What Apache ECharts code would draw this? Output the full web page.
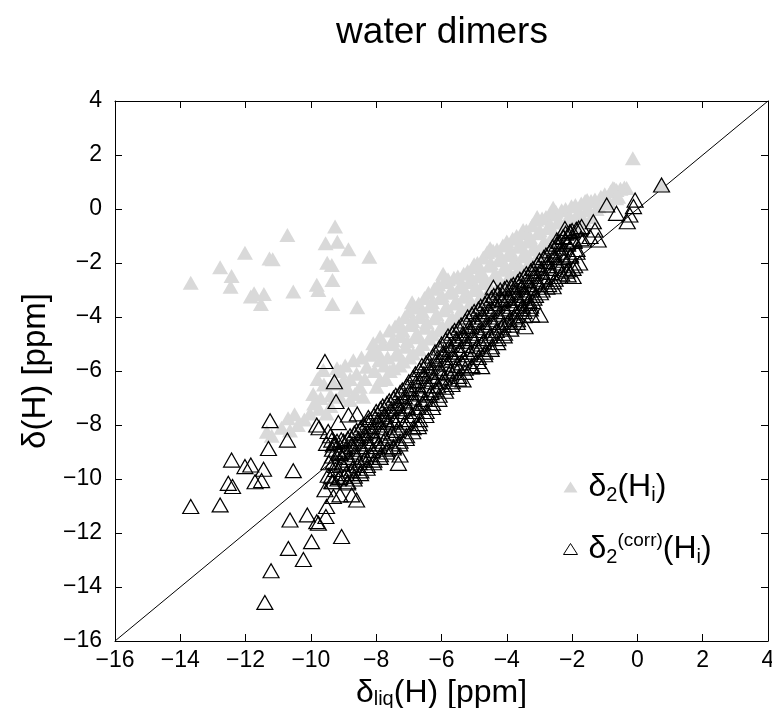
<!DOCTYPE html>
<html>
<head>
<meta charset="utf-8">
<script src="https://cdn.jsdelivr.net/npm/echarts@6/dist/echarts.min.js"></script>
<style>
html,body{margin:0;padding:0;background:#fff;}
#chart{width:772px;height:708px;}
</style>
</head>
<body>
<div id="chart"></div>
<script>
// ---- data ----
const xTicks = [-16,-14,-12,-10,-8,-6,-4,-2,0,2,4];
const yTicks = [-16,-14,-12,-10,-8,-6,-4,-2,0,2,4];
const diagonal = [[-16,-16],[4,4]];

const grayOutliers = [
 [-9.26,-0.65],[-10.72,-0.96],[-9.55,-1.27],[-9.19,-1.21],[-8.85,-1.49],[-12.02,-1.62],
 [-11.27,-1.83],[-11.17,-1.86],[-8.21,-1.77],[-12.78,-2.16],[-9.50,-1.99],[-9.36,-2.07],
 [-12.43,-2.48],[-13.68,-2.73],[-12.46,-2.88],[-9.34,-2.63],[-9.82,-2.81],[-9.77,-3.00],
 [-10.54,-3.06],[-11.74,-3.12],[-11.44,-3.15],[-11.84,-3.24],[-11.53,-3.52],[-9.34,-3.52],
 [-8.58,-3.64]
];
const grayLowLeft = [
 [-11.35,-8.25],[-11.2,-8.4],[-10.7,-7.75],[-10.64,-8.2],[-10.4,-8.0],[-10.03,-7.57],
 [-9.93,-6.85],[-9.9,-7.2],[-9.62,-5.96],[-9.52,-7.57],[-9.6,-6.5],[-9.3,-6.46],
 [-9.11,-6.95],[-9.0,-6.33],[-8.8,-7.07],[-8.7,-5.6],[-8.5,-6.58],[-8.4,-6.95],
 [-8.6,-6.1],[-8.29,-5.84],[-8.09,-4.97],[-7.99,-6.58],[-7.88,-4.73],[-7.88,-6.33],
 [-8.2,-5.4],[-7.9,-5.6],[-9.2,-5.9],[-8.9,-6.6],
 [-9.8,-6.3],[-9.7,-7.0],[-9.4,-6.9],[-9.4,-7.3],[-9.1,-6.0],[-9.0,-6.7],[-8.95,-5.8],
 [-8.8,-6.3],[-8.65,-6.85],[-8.45,-5.5],[-8.35,-6.3],[-8.1,-5.25],[-8.05,-6.0],[-7.95,-5.3],
 [-7.8,-5.0],[-7.75,-5.8],[-7.7,-6.3],[-9.75,-7.4],[-10.2,-7.8],[-10.9,-8.1],[-10.5,-7.6]
];
const grayBand = [
 [-7.60,-4.5],[-7.55,-5.0],[-7.65,-5.5],[-7.58,-6.0],
 [-7.30,-4.2],[-7.25,-4.7],[-7.35,-5.3],[-7.28,-5.8],
 [-7.00,-3.8],[-6.95,-4.3],[-7.05,-4.9],[-6.98,-5.5],
 [-6.70,-3.5],[-6.65,-4.0],[-6.75,-4.6],[-6.68,-5.2],
 [-6.40,-3.1],[-6.35,-3.6],[-6.45,-4.2],[-6.38,-4.8],
 [-6.10,-2.8],[-6.05,-3.3],[-6.15,-3.9],[-6.08,-4.5],
 [-5.80,-2.6],[-5.75,-3.1],[-5.85,-3.6],[-5.78,-4.2],
 [-5.50,-2.5],[-5.45,-2.9],[-5.55,-3.4],[-5.48,-3.9],
 [-5.20,-2.3],[-5.15,-2.7],[-5.25,-3.1],[-5.18,-3.6],
 [-4.90,-2.0],[-4.85,-2.5],[-4.95,-2.9],[-4.88,-3.4],
 [-4.60,-1.6],[-4.55,-2.1],[-4.65,-2.6],[-4.58,-3.1],
 [-4.30,-1.5],[-4.25,-1.9],[-4.35,-2.4],[-4.28,-2.9],
 [-4.00,-1.2],[-3.95,-1.7],[-4.05,-2.1],[-3.98,-2.6],
 [-3.70,-1.0],[-3.65,-1.4],[-3.75,-1.9],[-3.68,-2.3],
 [-3.40,-0.8],[-3.35,-1.2],[-3.45,-1.6],[-3.38,-2.1],
 [-3.10,-0.4],[-3.05,-0.9],[-3.15,-1.4],[-3.08,-1.8],
 [-2.80,-0.3],[-2.75,-0.7],[-2.85,-1.2],[-2.78,-1.6],
 [-2.50,-0.1],[-2.45,-0.5],[-2.55,-0.9],[-2.48,-1.3],
 [-2.20,0.0],[-2.15,-0.4],[-2.25,-0.8],
 [-1.90,0.15],[-1.85,-0.2],[-1.95,-0.6],
 [-1.60,0.3],[-1.55,-0.05],[-1.65,-0.4],
 [-1.30,0.35],[-1.25,0.0],
 [-1.00,0.55],[-0.95,0.2],
 [-0.70,0.75],[-0.65,0.4],
 [-0.40,0.8],[-0.33,0.78],[-0.64,0.7],
 [-0.14,1.88],[0.74,0.89],
 [-6.9,-3.45],[-5.95,-2.4],[-4.51,-1.45],[-3.07,-0.3],[-2.58,0.05],[-1.54,0.33],
 [-0.75,0.78],[-5.0,-2.05],[-3.5,-0.78]
];
const grayBand2 = [
 [-7.42,-4.35],[-7.49,-4.85],[-7.40,-5.4],[-7.47,-5.9],
 [-7.12,-4.0],[-7.19,-4.5],[-7.10,-5.1],[-7.17,-5.65],
 [-6.82,-3.65],[-6.89,-4.15],[-6.80,-4.75],[-6.87,-5.35],
 [-6.52,-3.3],[-6.59,-3.8],[-6.50,-4.4],[-6.57,-5.0],
 [-6.22,-2.95],[-6.29,-3.45],[-6.20,-4.05],[-6.27,-4.65],
 [-5.92,-2.7],[-5.99,-3.2],[-5.90,-3.75],[-5.97,-4.35],
 [-5.62,-2.55],[-5.69,-3.0],[-5.60,-3.5],[-5.67,-4.05],
 [-5.32,-2.4],[-5.39,-2.8],[-5.30,-3.25],[-5.37,-3.75],
 [-5.02,-2.15],[-5.09,-2.6],[-5.00,-3.0],[-5.07,-3.5],
 [-4.72,-1.8],[-4.79,-2.3],[-4.70,-2.75],[-4.77,-3.25],
 [-4.42,-1.55],[-4.49,-2.0],[-4.40,-2.5],[-4.47,-3.0],
 [-4.12,-1.35],[-4.19,-1.8],[-4.10,-2.25],[-4.17,-2.75],
 [-3.82,-1.1],[-3.89,-1.55],[-3.80,-2.0],[-3.87,-2.45],
 [-3.52,-0.9],[-3.59,-1.3],[-3.50,-1.75],[-3.57,-2.2],
 [-3.22,-0.6],[-3.29,-1.05],[-3.20,-1.5],[-3.27,-1.95],
 [-2.92,-0.35],[-2.99,-0.8],[-2.90,-1.3],[-2.97,-1.7],
 [-2.62,-0.2],[-2.69,-0.6],[-2.60,-1.05],[-2.67,-1.45],
 [-2.32,-0.05],[-2.39,-0.45],[-2.30,-0.85],[-2.37,-1.2],
 [-2.02,0.1],[-2.09,-0.3],[-2.00,-0.7],
 [-1.72,0.2],[-1.79,-0.1],[-1.70,-0.5],
 [-1.42,0.3],[-1.49,0.0],[-1.40,-0.3],
 [-1.12,0.45],[-1.19,0.1],
 [-0.82,0.65],[-0.89,0.3],
 [-0.52,0.75],[-0.59,0.45]
];

const blackOutliers = [
 [-11.25,-7.84],[-10.72,-8.56],[-11.3,-8.87],[-12.43,-9.30],[-12.02,-9.54],[-11.84,-9.48],
 [-11.45,-9.64],[-10.54,-9.69],[-12.53,-10.16],[-12.4,-10.28],[-11.71,-10.1],[-11.51,-10.06],
 [-12.78,-10.96],[-13.68,-11.02],[-10.64,-11.52],[-10.11,-11.33],[-9.82,-11.58],[-9.77,-11.64],
 [-9.54,-11.39],[-9.98,-12.32],[-9.06,-12.13],[-10.69,-12.57],[-10.23,-12.98],[-11.22,-13.4],
 [-11.41,-14.57],
 [-9.57,-5.65],[-9.28,-6.4],[-9.23,-7.13],[-9.82,-8.0],[-9.75,-8.1],[-9.16,-7.91],
 [-8.85,-7.63],[-8.58,-7.59],[-8.24,-7.72],[-9.47,-8.24],[-9.36,-8.56],[-9.52,-8.68],
 [-9.31,-8.74],[-9.31,-9.36],[-9.11,-9.05],
 [-9.52,-11.02],[-9.31,-10.65],[-9.11,-10.59],[-8.75,-10.59],[-8.6,-10.78],[-9.57,-10.4],
 [-9.36,-10.1],[-9.47,-9.86],
 [-6.71,-8.06],[-7.32,-9.42],[-7.27,-9.11],
 [-4.41,-2.9],[-3.44,-4.36],[-3.24,-3.93],[-2.98,-3.93],[-3.2,-3.43],[-2.12,-2.44],
 [-1.97,-2.5],[-2.58,-2.88],[-4.77,-5.84],[-5.34,-6.33]
];
const blackUpper = [
 [0.74,0.89],[-0.94,0.15],[-0.64,-0.16],[-0.07,0.33],[-0.12,0.09],[-0.23,-0.22],
 [-0.31,-0.47],[-1.35,-0.47],[-1.71,-0.65],[-2.22,-0.72],[-2.06,-0.84],[-1.45,-1.02],
 [-1.3,-0.78],[-1.2,-1.15],[-1.66,-1.15],[-2.27,-1.02],[-2.47,-1.15]
];
const blackBand = [
 [-9.40,-8.4],[-9.34,-8.9],[-9.45,-9.4],[-9.37,-9.9],
 [-9.20,-8.6],[-9.14,-9.0],[-9.25,-9.5],[-9.17,-10.0],
 [-9.00,-8.6],[-8.94,-9.0],[-9.05,-9.4],[-8.97,-9.9],
 [-8.80,-8.4],[-8.74,-8.8],[-8.85,-9.2],[-8.77,-9.7],[-8.87,-10.1],
 [-8.60,-8.2],[-8.54,-8.6],[-8.65,-9.0],[-8.57,-9.5],[-8.67,-9.9],
 [-8.40,-8.0],[-8.34,-8.4],[-8.45,-8.8],[-8.37,-9.3],[-8.47,-9.7],
 [-8.20,-7.8],[-8.14,-8.2],[-8.25,-8.6],[-8.17,-9.1],[-8.27,-9.5],
 [-8.00,-7.5],[-7.94,-7.9],[-8.05,-8.4],[-7.97,-8.8],[-8.07,-9.3],
 [-7.80,-7.3],[-7.74,-7.7],[-7.85,-8.1],[-7.77,-8.6],[-7.87,-9.1],
 [-7.60,-7.1],[-7.54,-7.5],[-7.65,-7.9],[-7.57,-8.4],[-7.67,-8.9],
 [-7.40,-6.9],[-7.34,-7.3],[-7.45,-7.8],[-7.37,-8.2],[-7.47,-8.8],
 [-7.20,-6.7],[-7.14,-7.1],[-7.25,-7.5],[-7.17,-8.0],[-7.27,-8.6],
 [-7.00,-6.4],[-6.94,-6.8],[-7.05,-7.3],[-6.97,-7.8],[-7.07,-8.4],
 [-6.80,-6.1],[-6.74,-6.5],[-6.85,-7.0],[-6.77,-7.5],[-6.87,-8.1],
 [-6.60,-5.8],[-6.54,-6.2],[-6.65,-6.7],[-6.57,-7.2],[-6.67,-7.8],
 [-6.40,-5.6],[-6.34,-6.0],[-6.45,-6.4],[-6.37,-6.9],[-6.47,-7.5],
 [-6.20,-5.3],[-6.14,-5.7],[-6.25,-6.2],[-6.17,-6.7],[-6.27,-7.2],
 [-6.00,-5.0],[-5.94,-5.4],[-6.05,-5.9],[-5.97,-6.4],[-6.07,-6.9],
 [-5.80,-4.7],[-5.74,-5.2],[-5.85,-5.6],[-5.77,-6.1],[-5.87,-6.6],
 [-5.60,-4.5],[-5.54,-4.9],[-5.65,-5.4],[-5.57,-5.9],[-5.67,-6.4],
 [-5.40,-4.3],[-5.34,-4.7],[-5.45,-5.2],[-5.37,-5.7],[-5.47,-6.2],
 [-5.20,-4.0],[-5.14,-4.5],[-5.25,-4.9],[-5.17,-5.4],[-5.27,-5.9],
 [-5.00,-3.8],[-4.94,-4.2],[-5.05,-4.7],[-4.97,-5.2],[-5.07,-5.8],
 [-4.80,-3.6],[-4.74,-4.0],[-4.85,-4.5],[-4.77,-5.0],[-4.87,-5.5],
 [-4.60,-3.4],[-4.54,-3.8],[-4.65,-4.3],[-4.57,-4.8],[-4.67,-5.3],
 [-4.40,-3.2],[-4.34,-3.6],[-4.45,-4.1],[-4.37,-4.6],[-4.47,-5.1],
 [-4.20,-3.0],[-4.14,-3.4],[-4.25,-3.9],[-4.17,-4.4],[-4.27,-4.8],
 [-4.00,-2.9],[-3.94,-3.3],[-4.05,-3.7],[-3.97,-4.2],[-4.07,-4.6],
 [-3.80,-2.8],[-3.74,-3.1],[-3.85,-3.5],[-3.77,-4.0],[-3.87,-4.3],
 [-3.60,-2.6],[-3.54,-2.9],[-3.65,-3.3],[-3.57,-3.7],[-3.67,-4.1],
 [-3.40,-2.4],[-3.34,-2.8],[-3.45,-3.1],[-3.37,-3.5],[-3.47,-3.8],
 [-3.20,-2.2],[-3.14,-2.5],[-3.25,-2.9],[-3.17,-3.3],[-3.27,-3.6],
 [-3.00,-1.9],[-2.94,-2.3],[-3.05,-2.7],[-2.97,-3.1],
 [-2.80,-1.7],[-2.74,-2.1],[-2.85,-2.5],[-2.77,-2.9],
 [-2.60,-1.4],[-2.54,-1.8],[-2.65,-2.2],[-2.57,-2.7],
 [-2.40,-1.2],[-2.34,-1.6],[-2.45,-2.0],[-2.37,-2.5],
 [-2.20,-0.9],[-2.14,-1.3],[-2.25,-1.8],[-2.17,-2.3],
 [-2.00,-0.8],[-1.94,-1.2],[-2.05,-1.7],[-1.97,-2.2],
 [-1.80,-0.7],[-1.74,-1.1],[-1.85,-1.5],[-1.77,-2.0]
];
const blackBand2 = [
 [-9.27,-8.65],[-9.34,-9.15],[-9.25,-9.65],[-9.32,-10.1],
 [-9.07,-8.55],[-9.14,-9.0],[-9.05,-9.45],[-9.12,-9.95],
 [-8.87,-8.5],[-8.94,-8.9],[-8.85,-9.3],[-8.92,-9.8],[-8.88,-10.15],
 [-8.67,-8.3],[-8.74,-8.7],[-8.65,-9.1],[-8.72,-9.6],[-8.68,-10.0],
 [-8.47,-8.1],[-8.54,-8.5],[-8.45,-8.9],[-8.52,-9.4],[-8.48,-9.8],
 [-8.27,-7.9],[-8.34,-8.3],[-8.25,-8.7],[-8.32,-9.2],[-8.28,-9.6],
 [-8.07,-7.65],[-8.14,-8.05],[-8.05,-8.5],[-8.12,-8.95],[-8.08,-9.4],
 [-7.87,-7.4],[-7.94,-7.8],[-7.85,-8.25],[-7.92,-8.7],[-7.88,-9.2],
 [-7.67,-7.2],[-7.74,-7.6],[-7.65,-8.0],[-7.72,-8.5],[-7.68,-9.0],
 [-7.47,-7.0],[-7.54,-7.4],[-7.45,-7.85],[-7.52,-8.3],[-7.48,-8.85],
 [-7.27,-6.8],[-7.34,-7.2],[-7.25,-7.65],[-7.32,-8.1],[-7.28,-8.7],
 [-7.07,-6.55],[-7.14,-6.95],[-7.05,-7.4],[-7.12,-7.9],[-7.08,-8.5],
 [-6.87,-6.25],[-6.94,-6.65],[-6.85,-7.15],[-6.92,-7.65],[-6.88,-8.25],
 [-6.67,-5.95],[-6.74,-6.35],[-6.65,-6.85],[-6.72,-7.35],[-6.68,-7.95],
 [-6.47,-5.7],[-6.54,-6.1],[-6.45,-6.55],[-6.52,-7.05],[-6.48,-7.65],
 [-6.27,-5.45],[-6.34,-5.85],[-6.25,-6.3],[-6.32,-6.8],[-6.28,-7.35],
 [-6.07,-5.15],[-6.14,-5.55],[-6.05,-6.05],[-6.12,-6.55],[-6.08,-7.05],
 [-5.87,-4.85],[-5.94,-5.3],[-5.85,-5.75],[-5.92,-6.25],[-5.88,-6.75],
 [-5.67,-4.6],[-5.74,-5.05],[-5.65,-5.5],[-5.72,-6.0],[-5.68,-6.5],
 [-5.47,-4.4],[-5.54,-4.8],[-5.45,-5.3],[-5.52,-5.8],[-5.48,-6.3],
 [-5.27,-4.15],[-5.34,-4.6],[-5.25,-5.05],[-5.32,-5.55],[-5.28,-6.05],
 [-5.07,-3.9],[-5.14,-4.35],[-5.05,-4.8],[-5.12,-5.3],[-5.08,-5.85],
 [-4.87,-3.7],[-4.94,-4.1],[-4.85,-4.6],[-4.92,-5.1],[-4.88,-5.65],
 [-4.67,-3.5],[-4.74,-3.9],[-4.65,-4.4],[-4.72,-4.9],[-4.68,-5.4],
 [-4.47,-3.3],[-4.54,-3.7],[-4.45,-4.2],[-4.52,-4.7],[-4.48,-5.2],
 [-4.27,-3.1],[-4.34,-3.5],[-4.25,-4.0],[-4.32,-4.5],[-4.28,-4.95],
 [-4.07,-2.95],[-4.14,-3.35],[-4.05,-3.8],[-4.12,-4.3],[-4.08,-4.7],
 [-3.87,-2.85],[-3.94,-3.2],[-3.85,-3.6],[-3.92,-4.1],[-3.88,-4.45],
 [-3.67,-2.7],[-3.74,-3.0],[-3.65,-3.4],[-3.72,-3.85],[-3.68,-4.2],
 [-3.47,-2.5],[-3.54,-2.85],[-3.45,-3.2],[-3.52,-3.6],[-3.48,-3.95],
 [-3.27,-2.3],[-3.34,-2.65],[-3.25,-3.0],[-3.32,-3.4],[-3.28,-3.7],
 [-3.07,-2.05],[-3.14,-2.4],[-3.05,-2.8],[-3.12,-3.2],
 [-2.87,-1.8],[-2.94,-2.2],[-2.85,-2.6],[-2.92,-3.0],
 [-2.67,-1.55],[-2.74,-1.95],[-2.65,-2.35],[-2.72,-2.8],
 [-2.47,-1.3],[-2.54,-1.7],[-2.45,-2.1],[-2.52,-2.6],
 [-2.27,-1.05],[-2.34,-1.45],[-2.25,-1.9],[-2.32,-2.4],
 [-2.07,-0.85],[-2.14,-1.25],[-2.05,-1.75],[-2.12,-2.25],
 [-1.87,-0.75],[-1.94,-1.15],[-1.85,-1.6],[-1.92,-2.1]
];

const seriesNames = ['d2', 'd2corr'];
const titleText = 'water dimers';

// ---- chart ----
const FONT = '"Liberation Sans", Arial, Helvetica, sans-serif';
const fmt = v => (v < 0 ? '\u2212' + Math.abs(v) : String(v));
const chart = echarts.init(document.getElementById('chart'), null, {renderer: 'canvas'});

function axisCommon(pos, showLabel) {
  return {
    type: 'value', min: -16, max: 4, interval: 2, position: pos,
    axisLine: {show: true, onZero: false, lineStyle: {color: '#000', width: 1}},
    axisTick: {show: true, inside: true, length: 7, lineStyle: {color: '#000', width: 1}},
    axisLabel: {show: showLabel, formatter: fmt, color: '#000', fontSize: 23, fontFamily: FONT},
    splitLine: {show: false}
  };
}

const xBottom = Object.assign(axisCommon('bottom', true), {
  name: '{m|δ}{s|liq}{m|(H) [ppm]}', nameLocation: 'middle', nameGap: 27,
  nameTextStyle: {rich: {
    m: {fontSize: 32, fontFamily: FONT, color: '#000', lineHeight: 34},
    s: {fontSize: 20, fontFamily: FONT, color: '#000', verticalAlign: 'bottom', lineHeight: 12}
  }}
});
xBottom.axisLabel.margin = 8;
const xTop = axisCommon('top', false);
const yLeft = Object.assign(axisCommon('left', true), {
  name: 'δ(H) [ppm]', nameLocation: 'middle', nameGap: 60,
  nameTextStyle: {fontSize: 33, fontFamily: FONT, color: '#000'}
});
yLeft.axisLabel.margin = 13;
const yRight = axisCommon('right', false);

const option = {
  animation: false,
  backgroundColor: '#fff',
  title: {
    text: titleText, left: 437, top: 9, textAlign: 'center',
    textStyle: {fontSize: 37, fontWeight: 'normal', fontFamily: FONT, color: '#000'}
  },
  grid: {left: 115, right: 4, top: 101, bottom: 67, containLabel: false, outerBoundsMode: 'none'},
  xAxis: [xBottom, xTop],
  yAxis: [yLeft, yRight],
  legend: {
    data: [
      {name: seriesNames[0], icon: 'triangle'},
      {name: seriesNames[1], icon: 'triangle', itemStyle: {borderWidth: 1, color: 'rgba(0,0,0,0)', borderColor: '#000'}}
    ],
    orient: 'vertical', left: 558, top: 466, itemGap: 26, itemWidth: 14, itemHeight: 11,
    formatter: function (name) {
      return name === seriesNames[0]
        ? '{m|δ}{s|2}{m|(H}{s|i}{m|)}'
        : '{m|δ}{s|2}{p|(corr)}{m|(H}{s|i}{m|)}';
    },
    textStyle: {padding: [0, 0, 0, 6], rich: {
      m: {fontSize: 32, fontFamily: FONT, color: '#000', lineHeight: 36},
      s: {fontSize: 20, fontFamily: FONT, color: '#000', verticalAlign: 'bottom', lineHeight: 12},
      p: {fontSize: 19, fontFamily: FONT, color: '#000', verticalAlign: 'top', lineHeight: 10}
    }}
  },
  series: [
    {
      type: 'line', data: diagonal, xAxisIndex: 0, yAxisIndex: 0, symbol: 'none',
      lineStyle: {color: '#000', width: 1}, silent: true, z: 1
    },
    {
      name: seriesNames[0], type: 'scatter', symbol: 'triangle', symbolSize: [16, 14],
      data: grayOutliers.concat(grayLowLeft, grayBand, grayBand2),
      itemStyle: {color: '#d9d9d9', opacity: 1}, z: 2
    },
    {
      name: seriesNames[1], type: 'scatter', symbol: 'triangle', symbolSize: [16, 14],
      data: blackOutliers.concat(blackBand, blackBand2, blackUpper),
      itemStyle: {color: 'rgba(0,0,0,0)', borderColor: '#000', borderWidth: 1.2, opacity: 1}, z: 3
    }
  ]
};
chart.setOption(option);
</script>
</body>
</html>
